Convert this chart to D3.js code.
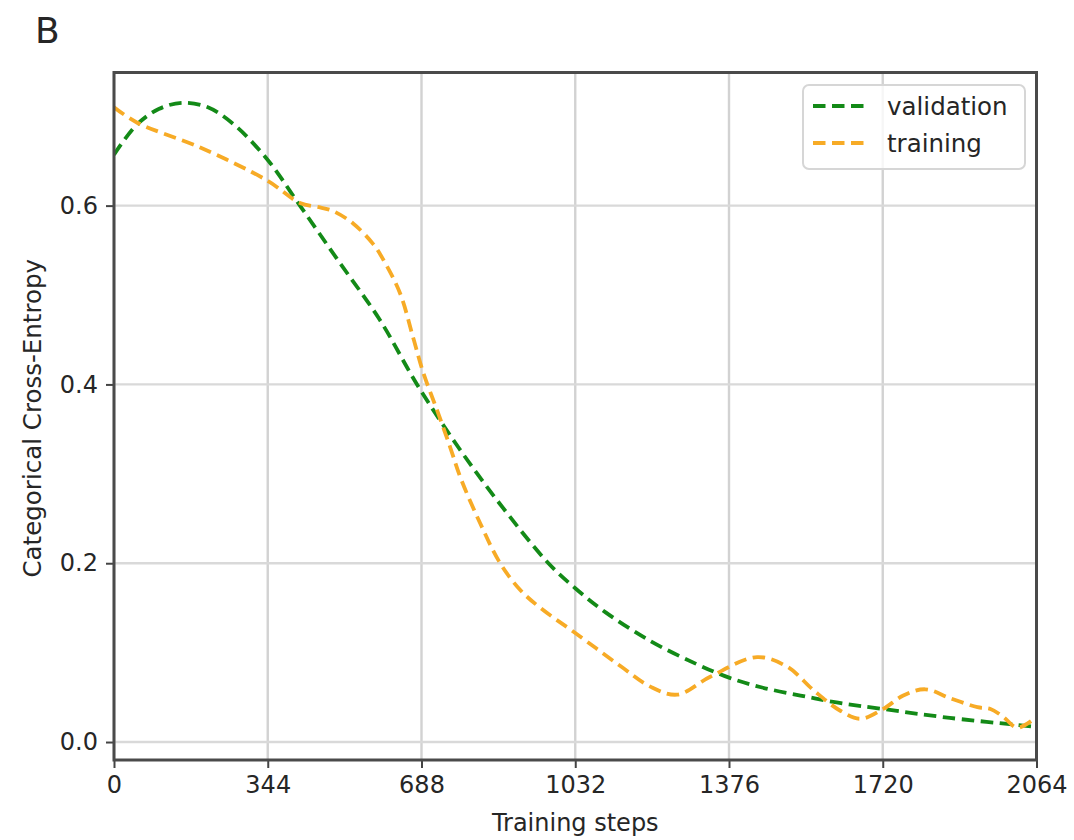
<!DOCTYPE html>
<html>
<head>
<meta charset="utf-8">
<script src="https://cdn.jsdelivr.net/npm/d3@7"></script>
<style>
  html, body { margin: 0; padding: 0; background: #fff; }
  svg { display: block; }
  text { font-family: "DejaVu Sans", sans-serif; fill: #262626; }
</style>
</head>
<body>
<svg id="chart" width="1074" height="840"></svg>
<script>
// ---- data ----
const valSteps = [0, 50, 100, 152, 210, 270, 344, 416, 501, 595, 678, 770, 864, 972, 1032, 1100, 1200, 1300, 1376, 1450, 1536, 1620, 1720, 1870, 2064];
const valLoss  = [0.657, 0.690, 0.708, 0.715, 0.710, 0.690, 0.651, 0.600, 0.539, 0.472, 0.400, 0.330, 0.266, 0.200, 0.172, 0.145, 0.113, 0.088, 0.072, 0.061, 0.052, 0.044, 0.037, 0.027, 0.017];

const trainSteps = [0, 51, 193, 343, 416, 461, 490, 535, 580, 602, 640, 669, 692, 723, 752, 775, 819, 864, 909, 954, 1032, 1133, 1200, 1260, 1334, 1439, 1507, 1565, 1625, 1670, 1721, 1766, 1815, 1871, 1932, 1961, 1990, 2021, 2064];
const trainLoss  = [0.710, 0.693, 0.665, 0.628, 0.603, 0.598, 0.594, 0.580, 0.557, 0.540, 0.502, 0.453, 0.413, 0.371, 0.330, 0.296, 0.245, 0.200, 0.170, 0.150, 0.122, 0.085, 0.062, 0.053, 0.073, 0.095, 0.084, 0.058, 0.035, 0.026, 0.037, 0.052, 0.059, 0.049, 0.039, 0.037, 0.028, 0.016, 0.028];

const xTicks = [0, 344, 688, 1032, 1376, 1720, 2064];
const yTicks = [0.0, 0.2, 0.4, 0.6];
const seriesNames = ["validation", "training"];
const seriesColors = ["#138a17", "#f7ab26"];

// ---- layout ----
const pL = 114, pR = 1036.5, pT = 72.5, pB = 760;
const svg = d3.select("#chart");

const x = d3.scaleLinear().domain([0, 2064]).range([pL, pR]);
const y = d3.scaleLinear().domain([-0.0201, 0.7489]).range([pB, pT]);

// gridlines
const grid = svg.append("g");
grid.selectAll("line.gx").data(xTicks).join("line").attr("class", "gx")
  .attr("x1", d => x(d)).attr("x2", d => x(d))
  .attr("y1", pT).attr("y2", pB)
  .attr("stroke", "#d2d2d2").attr("stroke-width", 2.4);
grid.selectAll("line.gy").data(yTicks).join("line").attr("class", "gy")
  .attr("x1", pL).attr("x2", pR)
  .attr("y1", d => y(d)).attr("y2", d => y(d))
  .attr("stroke", "#d9d9d9").attr("stroke-width", 2.4);

// curves
const line = d3.line().curve(d3.curveCatmullRom.alpha(0.5))
  .x(d => x(d[0])).y(d => y(d[1]));
const valData = valSteps.map((s, i) => [s, valLoss[i]]);
const trainData = trainSteps.map((s, i) => [s, trainLoss[i]]);

svg.append("clipPath").attr("id", "plotclip")
  .append("rect").attr("x", pL).attr("y", pT).attr("width", pR - pL).attr("height", pB - pT);

const lines = svg.append("g").attr("clip-path", "url(#plotclip)");
lines.append("path").datum(valData)
  .attr("d", line).attr("fill", "none")
  .attr("stroke", seriesColors[0]).attr("stroke-width", 3.8)
  .attr("stroke-dasharray", "12.5,6.5");
lines.append("path").datum(trainData)
  .attr("d", line).attr("fill", "none")
  .attr("stroke", seriesColors[1]).attr("stroke-width", 3.8)
  .attr("stroke-dasharray", "12.5,6.5");

// axes
const xAxis = d3.axisBottom(x).tickValues(xTicks).tickFormat(d3.format("d")).tickSize(8).tickPadding(8);
const yAxis = d3.axisLeft(y).tickValues(yTicks).tickFormat(d3.format(".1f")).tickSize(8).tickPadding(8);

const gx = svg.append("g").attr("transform", `translate(0,${pB})`).call(xAxis);
const gy = svg.append("g").attr("transform", `translate(${pL},0)`).call(yAxis);
[gx, gy].forEach(g => {
  g.select(".domain").remove();
  g.selectAll(".tick line").attr("stroke", "#444").attr("stroke-width", 2);
  g.selectAll(".tick text").attr("font-size", 24).attr("fill", "#262626")
    .attr("font-family", "DejaVu Sans");
});

// spines
svg.append("rect").attr("x", pL).attr("y", pT)
  .attr("width", pR - pL).attr("height", pB - pT)
  .attr("fill", "none").attr("stroke", "#4a4a4a").attr("stroke-width", 3);

// axis labels
svg.append("text").attr("x", (pL + pR) / 2).attr("y", 831)
  .attr("text-anchor", "middle").attr("font-size", 24).text("Training steps");
svg.append("text").attr("transform", `translate(41,${(pT + pB) / 2 + 2}) rotate(-90)`)
  .attr("text-anchor", "middle").attr("font-size", 24.5).text("Categorical Cross-Entropy");

// panel letter
svg.append("text").attr("x", 35).attr("y", 43)
  .attr("font-family", "Liberation Sans, Arial, sans-serif")
  .attr("font-size", 36).attr("fill", "#111").text("B");

// legend
const lg = svg.append("g");
lg.append("rect").attr("x", 803).attr("y", 85).attr("width", 222).attr("height", 84)
  .attr("rx", 6).attr("fill", "#fff").attr("fill-opacity", 0.8)
  .attr("stroke", "#d6d6d6").attr("stroke-width", 2);
seriesNames.forEach((name, i) => {
  const ly = 106 + i * 37;
  lg.append("line").attr("x1", 813).attr("x2", 867).attr("y1", ly).attr("y2", ly)
    .attr("stroke", seriesColors[i]).attr("stroke-width", 3.8)
    .attr("stroke-dasharray", "12.5,6.5");
  lg.append("text").attr("x", 887).attr("y", ly + 8.5)
    .attr("font-size", 24.5).text(name);
});
</script>
</body>
</html>
